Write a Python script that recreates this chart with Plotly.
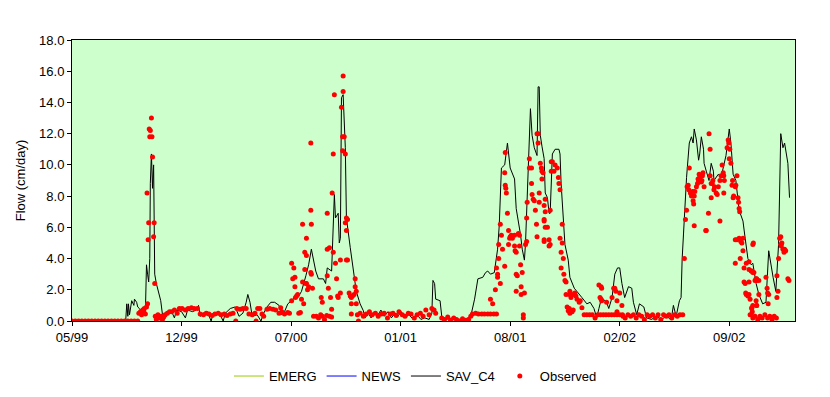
import pandas as pd
import plotly.graph_objects as go

start_date = "1999-05-31"

# SAV_C4 simulated flow: days since start_date, value (cm/day)
sim_days = [0, 98, 100, 102, 103, 105, 109, 113, 114, 118, 120, 123, 127, 131, 134, 136, 138, 140, 142, 143,
            145, 147, 149, 151, 154, 158, 162, 165, 169, 174, 182, 187, 191, 200, 207, 211, 220, 227, 231, 234,
            240, 247, 254, 258, 269, 276, 280, 289, 298, 305, 312, 318, 321, 325, 329, 338, 345, 350, 356, 363,
            370, 378, 383, 388, 394, 401, 408, 414, 419, 427, 432, 437, 445, 450, 459, 463, 466, 474, 479, 481,
            486, 488, 490, 492, 495, 499, 501, 508, 514, 519, 526, 532, 535, 541, 546, 552, 557, 564, 570, 577,
            583, 590, 595, 601, 608, 615, 623, 630, 637, 644, 652, 657, 659, 662, 664, 672, 675, 682, 695, 708,
            719, 728, 735, 741, 750, 755, 759, 764, 771, 777, 780, 784, 790, 795, 800, 808, 811, 813, 819, 822,
            826, 828, 831, 835, 837, 840, 844, 849, 851, 853, 855, 858, 862, 864, 868, 871, 873, 877, 882, 889,
            891, 893, 897, 900, 906, 909, 917, 922, 931, 940, 946, 953, 958, 962, 967, 976, 980, 986, 991, 996,
            1000, 1004, 1009, 1016, 1022, 1025, 1031, 1036, 1044, 1049, 1058, 1067, 1076, 1085, 1094, 1098, 1103,
            1109, 1112, 1114, 1118, 1122, 1127, 1131, 1134, 1136, 1140, 1144, 1146, 1149, 1153, 1154, 1158, 1163,
            1167, 1171, 1172, 1180, 1185, 1194, 1200, 1203, 1207, 1212, 1218, 1225, 1229, 1234, 1240, 1243, 1249,
            1254, 1261, 1267, 1272, 1276, 1280, 1285, 1290, 1294, 1298, 1301, 1307, 1310]
sim_vals = [0, 0, 1.1, 0.3, 1.1, 0.4, 1.3, 1.0, 1.4, 1.2, 0.9, 0.8, 0.6, 0.8, 0.6, 3.6, 3.0, 2.5, 4.0, 8.8,
            10.7, 8.5, 10.0, 3.0, 2.4, 1.9, 1.3, 0.45, 0.1, 0.5, 0.6, 0.2, 0.7, 0.6, 0.2, 0.7, 0.6, 0.7, 1.0, 0.3,
            0.5, 0.6, 0.0, 0.5, 0.5, 0.0, 0.5, 0.8, 0.9, 0.3, 0.5, 1.2, 1.7, 1.2, 0.3, 0.4, 0.0, 0.5, 0.9, 1.2,
            1.2, 1.0, 0.4, 0.6, 1.1, 1.3, 1.6, 1.6, 1.9, 2.9, 3.6, 4.6, 3.2, 2.7, 2.7, 2.4, 3.4, 3.2, 8.1, 6.6,
            6.9, 5.0, 5.3, 14.3, 14.5, 11.1, 6.6, 4.7, 3.2, 1.9, 1.1, 0.65, 0.2, 0.5, 0.2, 0.6, 0.3, 0.7, 0.3, 0.6,
            0.2, 0.5, 0.3, 0.6, 0.2, 0.4, 0.1, 0.4, 0.1, 0.2, 0.1, 0.5, 2.6, 2.4, 1.4, 1.3, 0.3, 0.1, 0.2, 0.1,
            0.1, 0.3, 1.4, 2.7, 2.8, 3.1, 3.2, 3.0, 3.1, 4.6, 6.1, 9.8, 10.0, 11.4, 9.8, 9.1, 7.2, 6.8, 5.5, 4.6,
            3.9, 5.0, 7.6, 11.2, 13.6, 11.9, 11.1, 10.6, 15.0, 15.0, 11.9, 11.2, 10.4, 8.2, 7.9, 6.9, 6.9, 10.7, 11.0, 11.0,
            10.7, 8.8, 6.2, 4.9, 3.9, 2.8, 2.1, 1.9, 1.5, 1.1, 1.2, 0.8, 0.2, 0.8, 1.5, 1.2, 0.8, 1.5, 3.0, 3.4,
            3.4, 2.4, 1.5, 2.2, 2.1, 1.2, 0.4, 1.1, 0.9, 0.2, 0.1, 0.3, 0.1, 0.3, 0.1, 1.0, 0.3,
            1.3, 1.5, 4.0, 6.6, 9.2, 11.4, 11.8, 11.4, 12.3, 11.6, 10.3, 10.7, 11.8, 11.0, 10.1, 9.6, 9.0,
            10.1, 9.6, 9.0, 9.4, 9.2, 10.6, 12.3, 11.4, 9.4, 9.0, 7.1, 6.4, 5.3, 4.0, 3.6, 3.7, 2.4,
            1.7, 1.1, 1.2, 4.5, 3.6, 2.8, 1.9, 4.9, 12.0, 11.1, 11.4, 10.1, 7.9]

# Observed flow: days since start_date, value (cm/day)
obs_days = [0, 6, 12, 18, 24, 30, 36, 42, 48, 54, 60, 66, 72, 78, 84, 90, 96, 102, 108, 114, 120,
            122, 125, 127, 129, 131, 132, 134, 136, 138,
            145, 141, 143, 142, 146, 147, 137, 140, 150, 149, 139, 151,
            152, 154, 157, 160, 163, 165, 168, 170, 174, 178,
            182, 187, 192, 196, 201, 207, 212, 218, 223, 229,
            234, 240, 245, 250, 256, 261, 267, 272, 278, 283, 289, 294, 299,
            301, 307, 312, 318, 323, 329, 334, 336, 339, 343, 347, 350,
            356, 361, 367, 372, 378, 381, 383, 388, 394, 397,
            401, 410, 412, 417, 419, 423, 401, 405, 403, 407, 407, 421, 425, 427, 428, 432, 430, 428, 425, 428,
            421, 437, 436, 436, 436, 437, 439, 441, 408, 414,
            446, 450, 454, 457, 461, 465, 470, 474,
            455, 457, 468, 466, 472, 474, 466, 470, 466, 477, 475, 477, 479, 481, 483, 485, 486, 490, 490,
            492, 495, 495, 494, 497, 494, 499, 501, 503, 499, 501, 501, 503, 506, 508, 510, 512, 515, 517, 517,
            519, 519, 510, 510, 523,
            521, 526, 532, 537, 543, 548, 554, 559, 565, 570, 576, 581, 586, 592, 597, 603, 608, 614, 619, 625,
            630, 636, 641, 646, 652, 657, 661, 664,
            675, 680, 686, 691, 697, 702, 708, 713, 719, 724, 728,
            731, 737, 742, 748, 753, 759, 764, 770, 775,
            764, 768, 773, 777, 775, 779, 782, 777, 779, 782, 784, 786, 790, 790, 791, 791, 792, 793, 795, 797,
            799, 797, 800, 802, 804, 808, 808, 809, 811, 815, 817, 817, 819, 811, 813, 811, 820, 820, 826, 822,
            824, 824, 828, 830, 830, 831, 835, 835, 839, 839, 840, 842, 844, 846, 848, 849, 851, 849, 851, 853,
            853, 855, 857, 858, 858, 860, 864, 862, 864, 862, 868, 862, 871, 871, 873, 875, 875, 862, 864, 862,
            873, 877, 880, 882, 886, 888, 889, 891, 895, 891, 895, 893, 897, 893, 898, 900, 902, 902, 908, 909,
            911, 915, 918, 920, 922, 926, 928, 931, 904, 908, 909, 913, 915, 906,
            935, 940, 945, 950, 955, 960, 965, 970, 975, 980, 985, 990, 995, 1000, 1005, 1010, 1015, 1020, 1025,
            1030, 1035, 1040, 1045, 1050, 1055, 1060, 1065, 1070, 1075, 1080, 1085, 1090, 1095, 1100, 1105, 1110,
            1115,
            962, 966, 967, 964, 966, 967, 976, 986, 989, 991, 993, 995, 1000, 1004, 995, 1006,
            1118, 1120, 1122, 1123, 1125, 1126, 1127, 1129, 1131, 1133, 1134, 1135, 1136, 1137, 1136, 1140, 1142,
            1143, 1144, 1145, 1146, 1149, 1150, 1151, 1152, 1154, 1158, 1157, 1162, 1163, 1165, 1165, 1167, 1167,
            1169, 1170, 1172, 1173, 1176, 1178, 1180, 1183, 1183, 1185, 1187, 1189, 1190, 1190, 1191, 1196, 1198,
            1199, 1200, 1201, 1203, 1205, 1206, 1207, 1208, 1211, 1212, 1214, 1216, 1217, 1218, 1219, 1211, 1214,
            1218, 1221, 1223, 1225, 1225, 1231, 1236, 1243, 1244, 1240, 1241, 1243, 1249, 1250, 1211, 1220, 1229,
            1236, 1234, 1241, 1242, 1250, 1254, 1249, 1240, 1269, 1270, 1267, 1287, 1287, 1290, 1292, 1294, 1294,
            1296, 1298, 1300, 1301, 1303, 1307, 1309, 1295,
            1238, 1243, 1247, 1252, 1256, 1260, 1265, 1270, 1274, 1278, 1282, 1286,
            1245, 1247, 1250, 1254, 1236, 1227, 1227, 1236, 1230, 1231, 1238, 1243, 1241, 1250, 1271, 1272, 1289]
obs_vals = [0, 0, 0, 0, 0, 0, 0, 0, 0, 0, 0, 0, 0, 0, 0, 0, 0, 0, 0, 0, 0,
            0.5, 0.6, 0.4, 0.7, 0.6, 0.8, 0.45, 0.9, 1.1,
            13.0, 12.3, 12.2, 11.8, 11.8, 10.5, 8.2, 6.3, 6.3, 5.4, 5.2, 2.4,
            0.3, 0.1, 0.4, 0.2, 0.3, 0.1, 0.3, 0.4, 0.5, 0.6,
            0.6, 0.7, 0.5, 0.8, 0.8, 0.7, 0.8, 0.85, 0.8, 0.8,
            0.45, 0.4, 0.5, 0.45, 0.35, 0.45, 0.5, 0.4, 0.45, 0.35, 0.45, 0.5, 0.0,
            0.8, 0.75, 0.8, 0.8, 0.45, 0.4, 0.5, 0.0, 0.8, 0.8, 0.45, 0.3,
            0.75, 0.8, 0.75, 0.7, 0.5, 0.85, 0.6, 0.45, 0.55, 0.5,
            1.3, 1.6, 1.7, 0.55, 1.4, 1.1, 3.7, 3.4, 2.7, 2.8, 2.2, 2.5, 3.3, 2.4, 2.4, 2.2, 2.0, 4.2, 4.4, 5.3,
            6.2, 6.2, 7.1, 11.4, 3.1, 3.0, 2.1, 0.3, 1.5, 0.5,
            0.3, 0.2, 0.4, 0.3, 0.1, 0.35, 0.3, 0.25,
            1.5, 1.2, 2.1, 2.9, 1.5, 0.75, 4.6, 4.7, 6.9, 4.4, 8.2, 10.7, 14.5, 3.7, 2.7, 1.6, 1.5, 1.8, 3.9,
            13.7, 15.7, 14.7, 11.8, 11.8, 10.9, 10.7, 6.6, 6.5, 6.3, 5.8, 3.9, 3.9, 1.8, 1.6, 1.5, 1.6, 1.7, 2.7, 2.2,
            1.9, 1.1, 1.1, 0.45, 0.0,
            0.4, 0.5, 0.3, 0.45, 0.6, 0.4, 0.5, 0.3, 0.45, 0.5, 0.2, 0.45, 0.5, 0.35, 0.6, 0.4, 0.3, 0.5, 0.45, 0.2,
            0.4, 0.5, 0.3, 0.7, 0.4, 0.8, 0.7, 0.5,
            0.2, 0.1, 0.25, 0.05, 0.2, 0.1, 0.0, 0.15, 0.05, 0.1, 0.3,
            0.45, 0.5, 0.45, 0.45, 0.45, 0.45, 0.45, 0.45, 0.45,
            1.4, 1.1, 2.0, 2.8, 3.4, 4.0, 2.4, 3.0, 4.9, 6.2, 5.5, 4.6, 3.5, 9.5, 10.8, 8.7, 8.5, 8.2, 6.9, 5.8,
            5.3, 4.9, 5.4, 5.5, 5.3, 5.5, 4.8, 4.5, 4.4, 5.6, 5.5, 4.8, 3.6, 3.0, 2.9, 1.9, 2.2, 1.7, 1.8, 3.1,
            0.4, 0.2, 4.9, 5.1, 6.6, 7.6, 10.4, 9.8, 9.8, 8.8, 8.1, 7.8, 7.7, 7.1, 6.2, 5.4, 12.0, 12.0, 11.4, 8.2,
            7.6, 10.1, 9.8, 9.6, 9.1, 9.5, 7.8, 7.4, 7.0, 6.5, 6.0, 5.2, 5.2, 4.8, 7.1, 10.2, 9.6, 6.4, 6.0, 5.1,
            4.9, 10.2, 9.6, 10.0, 9.8, 9.2, 8.8, 8.4, 6.2, 5.3, 5.0, 4.4, 4.0, 3.4, 3.0, 2.6, 2.5, 1.7, 1.7, 1.9,
            1.5, 1.7, 1.8, 1.6, 1.4, 1.2, 1.3, 0.85, 0.9, 0.8, 0.5, 0.6, 0.7, 0.65,
            0.4, 0.4, 0.4, 0.4, 0.2, 0.4, 0.4, 0.4, 0.4, 0.4, 0.4, 0.4, 0.4, 0.4, 0.4, 0.2, 0.4, 0.3, 0.4,
            0.2, 0.4, 0.3, 0.1, 0.4, 0.3, 0.4, 0.2, 0.4, 0.1, 0.4, 0.3, 0.4, 0.2, 0.4, 0.3, 0.4,
            0.4,
            2.3, 2.2, 2.1, 1.5, 1.4, 1.3, 1.2, 1.5, 2.1, 2.1, 1.9, 1.3, 1.8, 1.0, 0.6, 0.3,
            4.0, 6.5, 7.1, 8.6, 8.7, 8.4, 9.8, 8.2, 8.0, 8.3, 7.7, 7.5, 8.0, 8.3, 6.1, 8.6, 8.8,
            9.1, 8.9, 9.4, 9.2, 8.9, 9.0, 9.3, 9.5, 8.6, 5.8, 5.8, 6.9, 12.0, 11.0, 9.3, 8.8, 7.9,
            8.8, 9.0, 8.4, 8.6, 8.2, 8.1, 8.6, 6.4, 9.0, 9.3, 10.0, 9.5, 9.3, 8.2, 9.0, 11.1, 11.6,
            11.4, 10.4, 11.0, 10.1, 8.7, 9.0, 7.9, 8.0, 8.6, 8.7, 9.3, 7.9, 7.6, 7.2, 7.0, 5.2, 5.2,
            5.3, 5.1, 5.0, 5.3, 4.5, 3.7, 3.3, 4.9, 5.0, 3.2, 3.2, 3.1, 2.7, 2.7, 3.7, 4.0, 2.4,
            1.7, 1.6, 0.85, 0.6, 1.0, 1.7, 1.3, 0.4, 2.1, 1.8, 2.8, 1.5, 2.9, 4.0, 5.3, 5.4, 4.9,
            5.0, 4.6, 4.4, 4.6, 4.5, 2.7, 2.6, 4.8,
            0.4, 0.2, 0.3, 0.1, 0.3, 0.2, 0.4, 0.2, 0.3, 0.1, 0.3, 0.2,
            3.1, 2.6, 2.6, 2.6, 3.8, 3.4, 2.5, 2.5, 1.8, 1.7, 1.4, 1.0, 0.8, 1.0, 1.1, 1.7, 1.9]

tick_dates = ["1999-05-31", "1999-12-17", "2000-07-04", "2001-01-20", "2001-08-08", "2002-02-24", "2002-09-12"]
tick_labels = ["05/99", "12/99", "07/00", "01/01", "08/01", "02/02", "09/02"]
x_end = "2003-01-10"

y_ticks = [0, 2, 4, 6, 8, 10, 12, 14, 16, 18]

t0 = pd.Timestamp(start_date)
sim_x = t0 + pd.to_timedelta(sim_days, unit="D")
obs_x = t0 + pd.to_timedelta(obs_days, unit="D")

FONT = "Arial, Liberation Sans, sans-serif"

fig = go.Figure()
fig.add_trace(go.Scatter(x=[None], y=[None], mode="lines", name="EMERG",
                         line=dict(color="#99cc00", width=1)))
fig.add_trace(go.Scatter(x=[None], y=[None], mode="lines", name="NEWS",
                         line=dict(color="#0000ff", width=1)))
fig.add_trace(go.Scatter(x=sim_x, y=sim_vals, mode="lines", name="SAV_C4",
                         line=dict(color="#000000", width=1)))
fig.add_trace(go.Scatter(x=obs_x, y=obs_vals, mode="markers", name="Observed",
                         marker=dict(color="#ff0000", size=5, line=dict(width=0))))

fig.update_layout(
    width=822, height=395,
    margin=dict(l=64, r=35, t=32, b=82),
    paper_bgcolor="white",
    plot_bgcolor="#ccffcc",
    font=dict(family=FONT, size=13, color="black"),
    showlegend=True,
    legend=dict(orientation="h", x=0.475, xanchor="center", y=-0.196, yanchor="middle",
                font=dict(family=FONT, size=13, color="black"), bgcolor="rgba(0,0,0,0)",
                itemwidth=30),
)
fig.update_xaxes(
    type="date",
    range=[start_date, x_end],
    tickvals=tick_dates, ticktext=tick_labels,
    ticks="outside", ticklen=4, tickcolor="black", tickwidth=1,
    showgrid=False, zeroline=False,
    showline=True, linecolor="black", linewidth=1, mirror=True,
    tickfont=dict(family=FONT, size=13, color="black"),
)
fig.update_yaxes(
    range=[0, 18],
    tickvals=y_ticks, tickformat=".1f",
    ticks="outside", ticklen=4, tickcolor="black", tickwidth=1,
    showgrid=False, zeroline=False,
    showline=True, linecolor="black", linewidth=1, mirror=True,
    title=dict(text="Flow (cm/day)", font=dict(family=FONT, size=13, color="black"), standoff=10),
    tickfont=dict(family=FONT, size=13, color="black"),
)

fig.write_html("out.html")
